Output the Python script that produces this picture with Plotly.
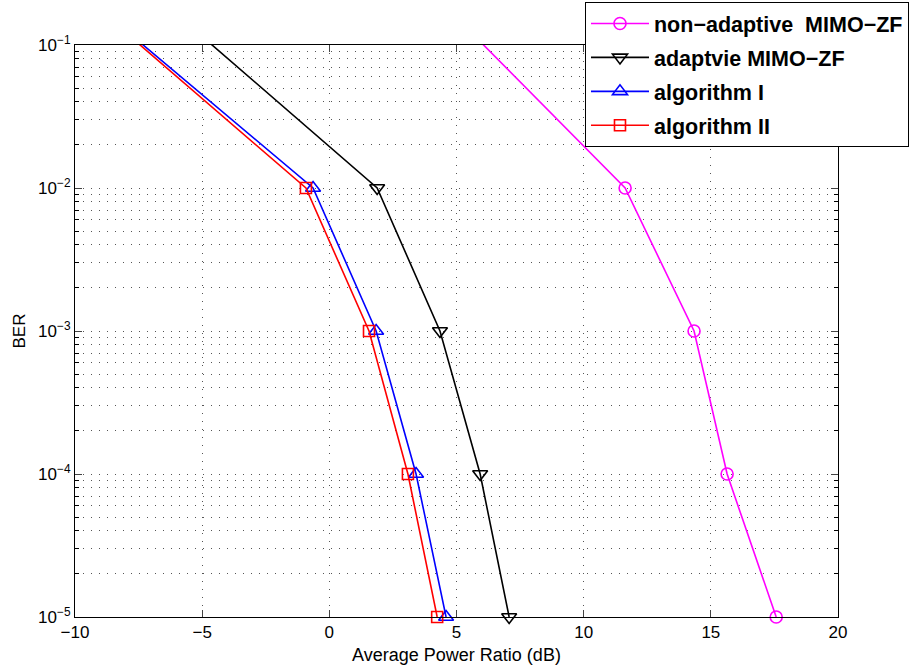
import plotly.graph_objects as go

# Data (x in dB, BER)
ber = [1e0, 1e-2, 1e-3, 1e-4, 1e-5]
x_nonadaptive = [0.5, 11.63, 14.34, 15.64, 17.57]
x_adaptive = [-11.1, 1.88, 4.35, 5.93, 7.07]
x_alg1 = [-14.0, -0.64, 1.84, 3.41, 4.59]
x_alg2 = [-13.96, -0.92, 1.56, 3.09, 4.24]

names = ["non−adaptive  MIMO−ZF", "adaptvie MIMO−ZF", "algorithm I", "algorithm II"]
xs = [x_nonadaptive, x_adaptive, x_alg1, x_alg2]
colors = ["#FF00FF", "#000000", "#0000FF", "#FF0000"]
symbols = ["circle-open", "triangle-down-open", "triangle-up-open", "square-open"]
sizes = [12, 13, 13, 11]

xticks = [-10, -5, 0, 5, 10, 15, 20]
yticks = [1e-5, 1e-4, 1e-3, 1e-2, 1e-1]
yticklabels = ["10<sup>−5</sup>", "10<sup>−4</sup>", "10<sup>−3</sup>", "10<sup>−2</sup>", "10<sup>−1</sup>"]
yminor = [m * d for d in [1e-5, 1e-4, 1e-3, 1e-2] for m in range(2, 10)]

fig = go.Figure()
for i in range(4):
    fig.add_trace(go.Scatter(
        x=xs[i], y=ber, name=names[i], mode="lines+markers",
        line=dict(color=colors[i], width=1.6),
        marker=dict(symbol=symbols[i], size=sizes[i], color=colors[i],
                    line=dict(color=colors[i], width=1.6)),
        cliponaxis=False, legendgroup=str(i),
    ))

font_family = "Liberation Sans, Arial, Helvetica, sans-serif"
grid_dash = "1px,7px"
fig.update_layout(
    width=909, height=671,
    margin=dict(l=75, r=71, t=45, b=54, autoexpand=False),
    paper_bgcolor="white", plot_bgcolor="white",
    font=dict(family=font_family, color="black", size=17),
    showlegend=True,
    legend=dict(
        x=0.6684, y=1.0752, xanchor="left", yanchor="top",
        bgcolor="white", bordercolor="black", borderwidth=1,
        font=dict(size=21.5, family=font_family, color="black", weight="bold"),
        tracegroupgap=3, itemwidth=58,
    ),
    xaxis=dict(
        range=[-10, 20], tickvals=xticks, ticks="inside", ticklen=7,
        showline=True, linecolor="black", linewidth=1, mirror="ticks",
        showgrid=True, gridcolor="#555555", griddash=grid_dash, gridwidth=1,
        zeroline=False, tickfont=dict(size=17),
        title=dict(text="Average Power Ratio (dB)", font=dict(size=18), standoff=6),
    ),
    yaxis=dict(
        type="log", range=[-5, -1], tickvals=yticks, ticktext=yticklabels,
        ticks="inside", ticklen=7,
        showline=True, linecolor="black", linewidth=1, mirror="ticks",
        showgrid=True, gridcolor="#555555", griddash=grid_dash, gridwidth=1,
        zeroline=False, tickfont=dict(size=17),
        minor=dict(tickvals=yminor, ticks="inside", ticklen=4, tickcolor="black",
                   showgrid=True, gridcolor="#555555", griddash=grid_dash, gridwidth=1),
        title=dict(text="BER", font=dict(size=17), standoff=8),
    ),
)

fig.write_html("out.html")
